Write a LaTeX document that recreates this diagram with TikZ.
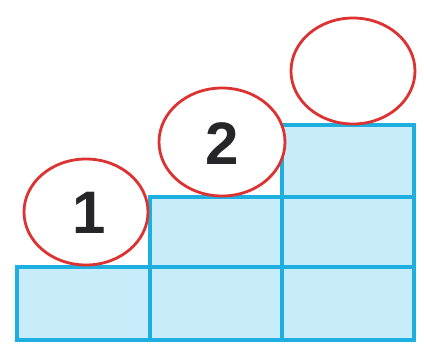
\documentclass[tikz,border=0pt]{standalone}
\usepackage{fontspec}
\setmainfont{Liberation Sans}
\definecolor{boxfill}{RGB}{200,236,250}
\definecolor{boxline}{RGB}{30,175,225}
\definecolor{ovalred}{RGB}{220,50,50}
\definecolor{digit}{RGB}{38,38,40}
\begin{document}
\begin{tikzpicture}[x=1pt,y=-1pt,
  cell/.style={draw=boxline,fill=boxfill,line width=3.3pt},
  oval/.style={draw=ovalred,fill=white,line width=2.8pt},
  num/.style={font=\fontsize{60}{60}\selectfont\bfseries,text=digit}]
\useasboundingbox (0,0) rectangle (424,354);
% bottom row
\draw[cell] (17,267) rectangle (150,340);
\draw[cell] (150,267) rectangle (282,340);
\draw[cell] (282,267) rectangle (414,340);
% middle row
\draw[cell] (150,197) rectangle (282,267);
\draw[cell] (282,197) rectangle (414,267);
% top row
\draw[cell] (282,125) rectangle (414,197);
% ovals
\draw[oval] (86,212) ellipse [x radius=62,y radius=53];
\draw[oval] (222,142) ellipse [x radius=63,y radius=54];
\draw[oval] (353,71) ellipse [x radius=62,y radius=53];
\node[num] (n1) at (89,213) {1};
\node[num] (n2) at (222,144) {2};
\end{tikzpicture}
\end{document}
